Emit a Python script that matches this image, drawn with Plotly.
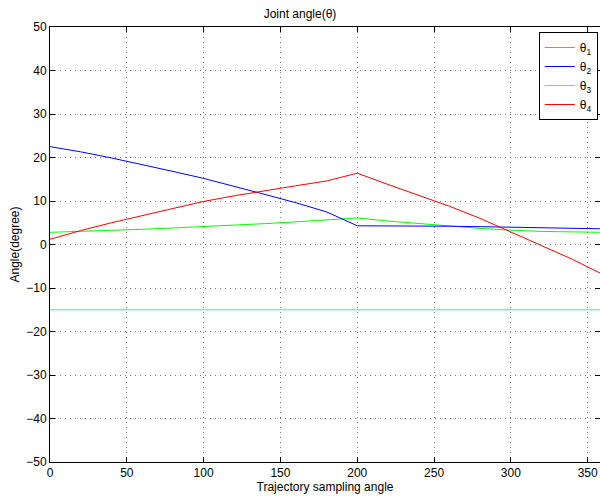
import plotly.graph_objects as go

x_vals = [0, 20, 40, 60, 80, 100, 120, 140, 160, 180, 200, 220, 240, 260, 280, 300, 320, 340, 360]
theta1 = [2.8, 3.0, 3.2, 3.5, 3.8, 4.1, 4.4, 4.8, 5.2, 5.6, 6.1, 5.4, 4.8, 4.2, 3.7, 3.3, 3.0, 2.9, 2.8]
theta2 = [22.5, 21.3, 19.9, 18.4, 16.8, 15.2, 13.4, 11.5, 9.6, 7.5, 4.3, 4.3, 4.3, 4.2, 4.1, 4.0, 3.9, 3.8, 3.6]
theta3 = [-15.0] * 19
theta4 = [1.2, 3.2, 5.0, 6.6, 8.3, 9.9, 11.2, 12.4, 13.5, 14.6, 16.4, 13.8, 11.3, 8.8, 6.0, 2.9, -0.2, -3.4, -6.9]

names = ["θ<sub>1</sub>", "θ<sub>2</sub>", "θ<sub>3</sub>", "θ<sub>4</sub>"]
colors = ["#00ff00", "#0000ff", "#00ffff", "#ff0000"]
series = [theta1, theta2, theta3, theta4]

x_ticks = [0, 50, 100, 150, 200, 250, 300, 350]
y_ticks = [-50, -40, -30, -20, -10, 0, 10, 20, 30, 40, 50]

fig = go.Figure()
for n, c, s in zip(names, colors, series):
    fig.add_trace(go.Scatter(x=x_vals, y=s, mode="lines", name=n,
                             line=dict(color=c, width=1)))

font = dict(family="Liberation Sans, Arial, sans-serif", size=12, color="black")
axis_common = dict(showline=True, linecolor="black", linewidth=1, mirror="ticks",
                   ticks="inside", ticklen=5, tickcolor="black",
                   showgrid=True, gridcolor="#777777", gridwidth=1, griddash="1px,4px",
                   zeroline=False, tickfont=font)

fig.update_layout(
    width=600, height=499,
    margin=dict(l=50, r=0, t=27, b=37),
    paper_bgcolor="white", plot_bgcolor="white",
    font=font,
    title=dict(text="Joint angle(θ)", x=0.5, xanchor="center", xref="container",
               y=1 - 14 / 499, yref="container", yanchor="middle",
               font=dict(family="Liberation Sans, Arial, sans-serif", size=12, color="black")),
    xaxis=dict(range=[0, 358], tickvals=x_ticks, ticktext=[str(v) for v in x_ticks],
               title=dict(text="Trajectory sampling angle", standoff=2, font=font),
               **axis_common),
    yaxis=dict(range=[-50, 50], tickvals=y_ticks,
               title=dict(text="Angle(degree)", standoff=4, font=font),
               **axis_common),
    legend=dict(x=0.996, y=0.9885, xanchor="right", yanchor="top",
                bgcolor="white", bordercolor="black", borderwidth=1,
                itemwidth=30,
                font=dict(family="Liberation Sans, Arial, sans-serif", size=12, color="black"),
                tracegroupgap=0),
    showlegend=True,
)

fig.write_html("out.html", config={"displayModeBar": False},
               post_script="document.body.style.margin='0';document.body.style.overflow='hidden';")
